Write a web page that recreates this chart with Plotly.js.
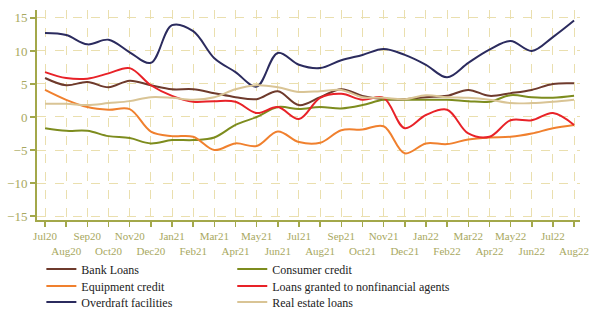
<!DOCTYPE html>
<html><head><meta charset="utf-8">
<script src="https://cdn.plot.ly/plotly-3.0.1.min.js"></script>
<style>body{margin:0;background:#fff}#c{width:591px;height:311px}</style>
</head><body><div id="c"></div>
<script>
const months = ["Jul20","Aug20","Sep20","Oct20","Nov20","Dec20","Jan21","Feb21","Mar21","Apr21","May21","Jun21","Jul21","Aug21","Sep21","Oct21","Nov21","Dec21","Jan22","Feb22","Mar22","Apr22","May22","Jun22","Jul22","Aug22"];
const bankLoans   = [5.9,4.8,5.3,4.5,5.5,4.8,4.2,4.2,3.6,3.0,2.7,3.9,1.8,3.0,4.2,3.2,2.7,2.7,3.0,3.2,4.1,3.2,3.6,4.1,5.0,5.1];
const consumer    = [-1.7,-2.1,-2.1,-2.9,-3.2,-4.0,-3.5,-3.5,-3.1,-1.2,0.0,1.5,1.2,1.5,1.3,1.8,2.6,2.6,2.6,2.6,2.4,2.3,3.3,3.0,2.9,3.2];
const equipment   = [4.1,2.6,1.5,1.1,1.2,-2.2,-2.9,-3.0,-5.0,-4.0,-4.4,-2.2,-3.8,-3.9,-2.0,-1.9,-1.4,-5.5,-4.0,-4.1,-3.4,-3.1,-3.0,-2.5,-1.7,-1.2];
const nonfin      = [6.8,5.9,5.8,6.6,7.4,4.8,3.2,2.3,2.4,2.3,0.6,1.5,-0.3,2.9,3.5,2.6,2.9,-1.7,0.3,1.1,-2.5,-3.0,-0.5,-0.5,0.6,-1.2];
const overdraft   = [12.7,12.4,11.0,11.7,9.8,8.2,13.9,13.0,8.9,6.8,4.6,9.7,7.9,7.4,8.6,9.4,10.3,9.4,7.9,6.0,8.2,10.2,11.5,10.0,12.1,14.6];
const realEstate  = [2.0,2.0,1.8,2.1,2.4,3.0,2.9,2.6,3.0,4.2,4.8,4.5,3.8,3.9,4.1,3.0,2.9,2.7,3.3,3.0,2.9,2.6,2.1,2.1,2.3,2.6];
const seriesNames = ["Bank Loans","Consumer credit","Equipment credit","Loans granted to nonfinancial agents","Overdraft facilities","Real estate loans"];
const seriesData  = [bankLoans,consumer,equipment,nonfin,overdraft,realEstate];
const colors = ["#6e3a2c","#7d8c1e","#f0802e","#e82228","#2b2b5e","#d9c495"];
const yTicks = [-15,-10,-5,0,5,10,15];

const idx = months.map((m,i)=>i);
const tickText = months.map((m,i)=> i%2===0 ? m : "<br>"+m);
const legendIds = ["legend","legend2","legend3","legend4","legend5","legend6"];

const traces = seriesData.map((d,k)=>({
  x: idx, y: d, name: seriesNames[k], type:"scatter", mode:"lines",
  legend: legendIds[k],
  line:{color:colors[k], width:2, shape:"spline", smoothing:1}
}));

const axisColor = "#a3a84a";
const gridColor = "#eadfae";
const layout = {
  width:591, height:311,
  margin:{l:37, r:11, t:10, b:91, autoexpand:false},
  paper_bgcolor:"#fff", plot_bgcolor:"#fff",
  font:{family:"Liberation Serif, serif", size:11, color:"#222"},
  showlegend:true,
  xaxis:{
    range:[-0.38,25.28], tickmode:"array", tickvals:idx, ticktext:tickText,
    showgrid:true, gridcolor:gridColor, griddash:"dash", gridwidth:1,
    showline:true, linecolor:axisColor, linewidth:2,
    ticks:"outside", ticklen:5, tickcolor:axisColor, tickwidth:1.5,
    tickfont:{family:"Liberation Serif, serif", size:11, color:"#a8a860"},
    tickangle:0, zeroline:false, automargin:false
  },
  yaxis:{
    range:[-15.6,16.2], tickmode:"array", tickvals:yTicks,
    showgrid:true, gridcolor:gridColor, griddash:"dash", gridwidth:1,
    showline:true, linecolor:axisColor, linewidth:2,
    ticks:"outside", ticklen:5, tickcolor:axisColor, tickwidth:1.5,
    tickfont:{family:"Liberation Serif, serif", size:13, color:"#a8a860"},
    zeroline:false, automargin:false
  }
};
const legX = [0.070, 0.393];
const legY = [0.135, 0.080, 0.029];
legendIds.forEach((id,k)=>{
  layout[id] = {
    xref:"container", yref:"container",
    x: legX[k%2], xanchor:"left", y: legY[Math.floor(k/2)], yanchor:"middle",
    itemwidth:30, font:{family:"Liberation Serif, serif", size:12, color:"#222"},
    bgcolor:"rgba(0,0,0,0)"
  };
});
Plotly.newPlot("c", traces, layout, {displayModeBar:false, staticPlot:true});
</script></body></html>
